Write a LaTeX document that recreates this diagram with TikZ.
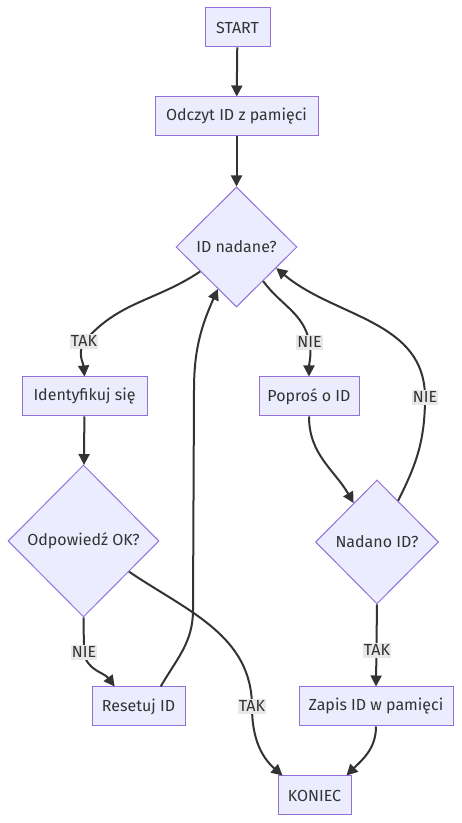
\documentclass[tikz,border=0pt]{standalone}
\usepackage{fontspec}
\setmainfont{Fira Sans}
\usetikzlibrary{shapes.geometric,arrows.meta}
\definecolor{nodefill}{HTML}{ECECFF}
\definecolor{nodeline}{HTML}{9370DB}
\definecolor{edgecol}{HTML}{333333}
\definecolor{labbg}{HTML}{E8E8E8}
\definecolor{txt}{HTML}{333333}
\begin{document}
\begin{tikzpicture}[x=1pt,y=1pt,
  txtfont/.style={font=\fontsize{16}{19}\selectfont, text=txt},
  box/.style={draw=nodeline, fill=nodefill, line width=1pt, rectangle, minimum height=39pt, inner sep=0pt, txtfont},
  dia/.style={draw=nodeline, fill=nodefill, line width=1pt, diamond, inner sep=0pt, txtfont},
  lab/.style={fill=labbg, inner xsep=1pt, inner ysep=1pt, text height=11.5pt, text depth=1.5pt, txtfont},
  arr/.style={draw=edgecol, line width=2pt, -{Triangle[length=11pt,width=11pt]}},
]
\useasboundingbox (0,0) rectangle (462,823);
\fill[white] (0,0) rectangle (462,823);

% nodes
\node[box, minimum width=65pt]  (start)  at (237.5,795.5) {START};
\node[box, minimum width=163pt] (odczyt) at (236.5,706.5) {Odczyt ID z pamięci};
\node[dia, minimum width=121pt, minimum height=120pt] (idn) at (236.5,576) {ID nadane?};
\node[box, minimum width=125pt] (ident)  at (84.5,426.5) {Identyfikuj się};
\node[dia, minimum width=151pt, minimum height=152pt] (odp) at (83.5,282) {Odpowiedź OK?};
\node[box, minimum width=93pt]  (reset)  at (138.5,116.5) {Resetuj ID};
\node[box, minimum width=100pt] (popros) at (309,426.5) {Poproś o ID};
\node[dia, minimum width=123pt, minimum height=124pt] (nad) at (377,281) {Nadano ID?};
\node[box, minimum width=154pt] (zapis)  at (376,116.5) {Zapis ID w pamięci};
\node[box, minimum width=73pt]  (kon)    at (314.5,27.5) {KONIEC};

% helper coordinates
\coordinate (r1) at (193,213);
\coordinate (r2) at (194,433);

% label positions (for routing)
\coordinate (ptak1) at (84,481);
\coordinate (pnie1) at (309.5,480);
\coordinate (pnie2) at (425,425.5);
\coordinate (pnie3) at (84,170);
\coordinate (ptak2) at (252,116);
\coordinate (ptak3) at (377,172);

% edges
\draw[arr] (start) -- (odczyt);
\draw[arr] (odczyt) -- (idn);
\draw[arr] (idn.214) to[out=214,in=50] (ptak1) to[out=-120,in=95] (ident.north);
\draw[arr] (idn.308) to[out=-54,in=100] (pnie1) to[out=-80,in=90] (popros.north);
\draw[arr] (ident) -- (odp);
\draw[arr] (odp.south) -- (pnie3) to[out=-80,in=127] (reset.140);
\draw[arr] (reset.42) to[out=60,in=-90] (r1) -- (r2) to[out=90,in=-114] (idn.246);
\draw[arr] (odp.-34) to[out=-34,in=90] (ptak2) to[out=-90,in=139] (kon.148);
\draw[arr] (popros.south) to[out=-90,in=120] (nad.121);
\draw[arr] (nad.63) to[out=63,in=-90] (pnie2) to[out=90,in=-40] (idn.-28);
\draw[arr] (nad.south) -- (zapis.north);
\draw[arr] (zapis.south) to[out=-90,in=45] (kon.32);

% labels
\node[lab] (ltak1) at (ptak1) {TAK};
\node[lab] (lnie1) at (pnie1) {NIE};
\node[lab] (lnie2) at (pnie2) {NIE};
\node[lab] (lnie3) at (pnie3) {NIE};
\node[lab] (ltak2) at (ptak2) {TAK};
\node[lab] (ltak3) at (ptak3) {TAK};
\end{tikzpicture}
\end{document}
